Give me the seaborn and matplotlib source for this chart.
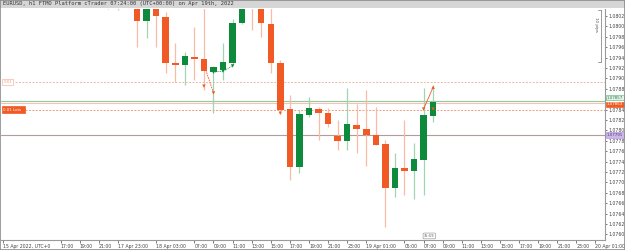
import matplotlib
matplotlib.use("Agg")
import matplotlib.pyplot as plt
import matplotlib.transforms as mtransforms
import pandas as pd
import seaborn as sns

# ---------------- data ----------------
bar_index = list(range(-3, 32))
opens = [1.08036, 1.08075, 1.08045,
         1.08077, 1.08010, 1.08057, 1.08018, 1.07930, 1.07926, 1.07941, 1.07937,
         1.07912, 1.07916, 1.07930, 1.08007, 1.08085, 1.08060, 1.08005, 1.07930,
         1.07841, 1.07730, 1.07830, 1.07841, 1.07833, 1.07789, 1.07780, 1.07810,
         1.07803, 1.07791, 1.07774, 1.07689, 1.07728, 1.07722, 1.07743, 1.07828]
highs = [1.08080, 1.08085, 1.08080,
         1.08090, 1.08070, 1.08065, 1.08028, 1.07968, 1.07951, 1.07999, 1.08035,
         1.07924, 1.07968, 1.08014, 1.08080, 1.08095, 1.08070, 1.08060, 1.07935,
         1.07868, 1.07839, 1.07864, 1.07845, 1.07843, 1.07820, 1.07882, 1.07851,
         1.07878, 1.07845, 1.07782, 1.07757, 1.07820, 1.07776, 1.07882, 1.07887]
lows = [1.08034, 1.08032, 1.08040,
        1.07960, 1.07978, 1.07960, 1.07910, 1.07893, 1.07887, 1.07897, 1.07878,
        1.07833, 1.07897, 1.07926, 1.08005, 1.07993, 1.07980, 1.07910, 1.07832,
        1.07705, 1.07718, 1.07826, 1.07782, 1.07807, 1.07762, 1.07762, 1.07757,
        1.07731, 1.07772, 1.07614, 1.07672, 1.07676, 1.07668, 1.07676, 1.07816]
closes = [1.08070, 1.08045, 1.08072,
          1.08010, 1.08061, 1.08020, 1.07930, 1.07926, 1.07943, 1.07937, 1.07914,
          1.07922, 1.07932, 1.08007, 1.08066, 1.08060, 1.08007, 1.07930, 1.07839,
          1.07730, 1.07832, 1.07843, 1.07833, 1.07812, 1.07780, 1.07812, 1.07803,
          1.07791, 1.07772, 1.07689, 1.07728, 1.07722, 1.07745, 1.07830, 1.07855]

price_ticks = [1.0802, 1.0800, 1.0798, 1.0796, 1.0794, 1.0792, 1.0790, 1.0788,
               1.0786, 1.0784, 1.0782, 1.0780, 1.0778, 1.0776, 1.0774, 1.0772,
               1.0770, 1.0768, 1.0766, 1.0764, 1.0762, 1.0760]
hidden_price_ticks = [1.0786]   # covered by the bid/ask price boxes

time_tick_bars = [-14, -8, -6, -4, -2, 2, 6, 8, 10, 12, 14, 16, 18, 20, 22, 24,
                  28, 30, 32, 34, 36, 38, 40, 42, 44, 46, 48]
time_tick_labels = ["15 Apr 2022, UTC+0", "17:00", "19:00", "21:00", "17 Apr 23:00",
                    "18 Apr 03:00", "07:00", "09:00", "11:00", "13:00", "15:00",
                    "17:00", "19:00", "21:00", "23:00", "19 Apr 01:00", "05:00",
                    "07:00", "09:00", "11:00", "13:00", "15:00", "17:00", "19:00",
                    "21:00", "23:00", "20 Apr 01:00"]

# trade marks
sell_bars = [7, 8, 15, 30, 31]
sell_prices = [1.07885, 1.07872, 1.07833, 1.07841, 1.07841]
sell_link_bars = [7.2, 8]
sell_link_prices = [1.07916, 1.07872]
buy_bars = [8, 9, 10]
buy_prices = [1.07912, 1.07914, 1.07924]
last_link_bars = [30, 31]
last_link_prices = [1.07841, 1.07883]

pending_level = 1.07893
bid_level = 1.07857
ask_level = 1.07853
position_level = 1.07840
purple_level = 1.07791
pip_range = [1.08032, 1.07932]

title = "EURUSD, h1 FTMO Platform cTrader 07:24:00 (UTC+00:00) on Apr 19th, 2022"

# ---------------- plot ----------------
sns.set_theme(style="white")
plt.rcParams['font.family'] = ['DejaVu Sans']

BULL = "#0d8a3c"
BEAR = "#f15a24"
BULL_W = "#a3d4b2"
BEAR_W = "#f7bba6"

df = pd.DataFrame({"bar": bar_index, "open": opens, "high": highs,
                   "low": lows, "close": closes})
df["bull"] = df["close"] >= df["open"]
df["bottom"] = df[["open", "close"]].min(axis=1)
df["height"] = (df["close"] - df["open"]).abs().clip(lower=0.000025)

fig = plt.figure(figsize=(6.25, 2.5), dpi=100)
ax = fig.add_axes([1/625, 10/250, 604/625, 231/250])

# reference lines
ax.axhline(pending_level, color="#f4b7a3", lw=0.7, ls=(0, (2, 1.5)), xmin=0.024)
ax.axhline(bid_level, color="#8fc9a0", lw=0.8)
ax.axhline(ask_level, color="#f6c2b0", lw=0.8)
ax.axhline(position_level, color="#f29a7c", lw=0.7, ls=(0, (2, 1.5)), xmin=0.04)
ax.axhline(purple_level, color="#b59a9a", lw=0.8)

# wicks
for bull, wc in [(True, BULL_W), (False, BEAR_W)]:
    sub = df[df["bull"] == bull]
    ax.vlines(sub["bar"], sub["low"], sub["high"], color=wc, lw=0.9, zorder=2)
# bodies
ax.bar(df["bar"], df["height"], bottom=df["bottom"], width=0.68,
       color=[BULL if b else BEAR for b in df["bull"]], zorder=3, linewidth=0)

# trade marks
ax.plot(sell_link_bars, sell_link_prices, color=BEAR, lw=0.6, ls=(0, (2, 1)), zorder=4)
ax.plot(last_link_bars, last_link_prices, color=BEAR, lw=0.6, zorder=4)
ax.plot(buy_bars, buy_prices, color=BULL, lw=0.6, ls=(0, (1, 1)), zorder=4)
sns.scatterplot(x=sell_bars, y=sell_prices, marker="v", s=6, color=BEAR,
                edgecolor="none", ax=ax, zorder=5)
sns.scatterplot(x=buy_bars, y=buy_prices, marker="v", s=6, color=BULL,
                edgecolor="none", ax=ax, zorder=5)
sns.scatterplot(x=[last_link_bars[1]], y=[last_link_prices[1]], marker="^", s=6,
                color=BEAR, edgecolor="none", ax=ax, zorder=5)

ax.set_xlim(-14.25, 49.0)
ax.set_ylim(1.075892, 1.080335)

# axes styling
for s in ["left", "top"]:
    ax.spines[s].set_visible(False)
for s in ["right", "bottom"]:
    ax.spines[s].set_color("#9a9a9a")
    ax.spines[s].set_linewidth(0.8)
ax.yaxis.tick_right()
ax.set_yticks(price_ticks)
ax.set_yticklabels(["" if p in hidden_price_ticks else f"{p:.4f}" for p in price_ticks])
ax.tick_params(axis="y", which="both", right=True, length=1.5, width=0.5,
               pad=1, labelsize=3.3, colors="#444444")
ax.set_xticks(time_tick_bars)
ax.set_xticklabels(time_tick_labels)
ax.tick_params(axis="x", bottom=True, length=2, width=0.5, pad=1,
               labelsize=3.3, colors="#444444")
for lab in ax.get_xticklabels():
    lab.set_horizontalalignment("left")
ax.set_xlabel("")
ax.set_ylabel("")

# right-axis price labels
yax = mtransforms.blended_transform_factory(ax.transAxes, ax.transData)
def right_label(y, text, fc, ec, tc):
    ax.text(1.003, y, text, transform=yax, fontsize=2.9, color=tc, va="center",
            ha="left", clip_on=False,
            bbox=dict(boxstyle="square,pad=0.15", fc=fc, ec=ec, lw=0.5), zorder=6)
right_label(bid_level + 0.00006, "1.07857", "#e3f2e7", "#6fbf86", "#2e7d45")
right_label(ask_level - 0.00003, "1.07853", BEAR, BEAR, "white")
right_label(purple_level, "1.07791", "#cdb6ea", "#b79ae0", "#4a3a66")

# left order labels
ax.text(0.004, pending_level, "0.01", transform=yax, fontsize=2.8, color="#f29a7c",
        va="center", ha="left",
        bbox=dict(boxstyle="square,pad=0.3", fc="white", ec="#f4b7a3", lw=0.5), zorder=6)
ax.text(0.004, position_level, "0.01 Lots  ", transform=yax, fontsize=2.8, color="white",
        va="center", ha="left",
        bbox=dict(boxstyle="square,pad=0.3", fc=BEAR, ec=BEAR, lw=0.5), zorder=6)

# 10 pips ruler
ax.plot([0.994, 0.994], pip_range, transform=yax, color="#8a8a8a", lw=0.6, clip_on=False)
for yy in pip_range:
    ax.plot([0.989, 0.994], [yy, yy], transform=yax, color="#8a8a8a", lw=0.6, clip_on=False)
ax.text(0.988, (pip_range[0] + pip_range[1]) / 2 + 0.00022, "10 pips", transform=yax,
        rotation=270, fontsize=3, color="#555555", ha="right", va="center")

# countdown box
ax.text(30.6, 1.07597, "35:59", fontsize=2.6, color="#555555", ha="center", va="center",
        bbox=dict(boxstyle="round,pad=0.25", fc="white", ec="#888888", lw=0.4), zorder=6)

# title bar
fig.patches.append(plt.Rectangle((0, 242/250), 1, 8/250, transform=fig.transFigure,
                                 fc="#d6d6d6", ec="none", zorder=0))
fig.text(3/625, 246/250, title, fontsize=3.9, family="DejaVu Sans Mono",
         color="#333333", va="center", ha="left")
# frame
fig.patches.append(plt.Rectangle((0, 0), 1, 1, transform=fig.transFigure,
                                 fc="none", ec="#8c8c8c", lw=1.2, zorder=10))

fig.savefig("out.png", dpi=100)
